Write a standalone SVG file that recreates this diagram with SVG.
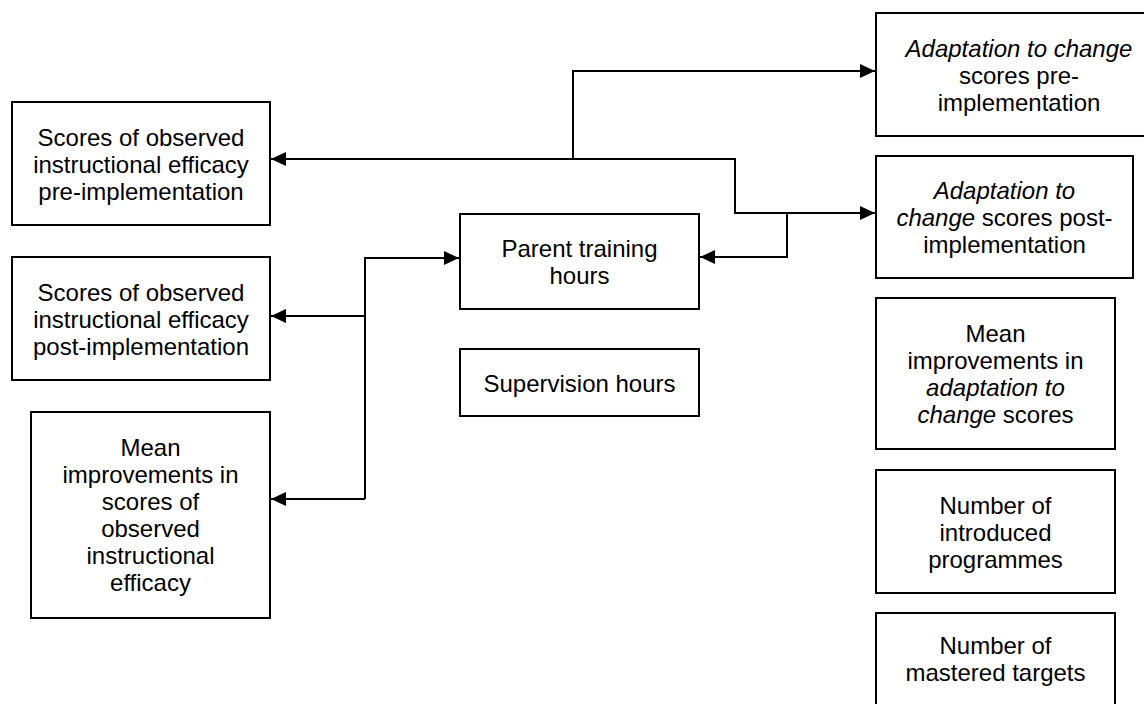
<svg xmlns="http://www.w3.org/2000/svg" width="1144" height="704" viewBox="0 0 1144 704">
<style>
.box{fill:#fff;stroke:#000;stroke-width:2}
.t{font-family:"Liberation Sans",Arial,sans-serif;font-size:24px;fill:#000;text-anchor:middle}
.i{font-style:italic}
.c{fill:none;stroke:#000;stroke-width:2}
</style>
<defs>
<marker id="ah" markerUnits="userSpaceOnUse" markerWidth="16" markerHeight="14" refX="15" refY="7" orient="auto">
<path d="M0,0 L15,7 L0,14 z" fill="#000"/>
</marker>
</defs>
<rect width="1144" height="704" fill="#fff"/>
<g id="connectors">
<path class="c" d="M573 159 H271" marker-end="url(#ah)"/>
<path class="c" d="M573 159 V71 H875" marker-end="url(#ah)"/>
<path class="c" d="M573 159 H735 V213 H875" marker-end="url(#ah)"/>
<path class="c" d="M787 213 V257 H700" marker-end="url(#ah)"/>
<path class="c" d="M365 499 V258 H459" marker-end="url(#ah)"/>
<path class="c" d="M365 316 H271" marker-end="url(#ah)"/>
<path class="c" d="M365 499 H271" marker-end="url(#ah)"/>
</g>
<g id="obs-pre">
<rect class="box" x="12" y="102" width="258" height="123"/>
<text class="t" x="141" y="145.5">Scores of observed</text>
<text class="t" x="141" y="172.5">instructional efficacy</text>
<text class="t" x="141" y="199.5">pre-implementation</text>
</g>
<g id="obs-post">
<rect class="box" x="12" y="257" width="258" height="123"/>
<text class="t" x="141" y="300.5">Scores of observed</text>
<text class="t" x="141" y="327.5">instructional efficacy</text>
<text class="t" x="141" y="354.5">post-implementation</text>
</g>
<g id="obs-mean">
<rect class="box" x="31" y="412" width="239" height="206"/>
<text class="t" x="150.5" y="456">Mean</text>
<text class="t" x="150.5" y="483">improvements in</text>
<text class="t" x="150.5" y="510">scores of</text>
<text class="t" x="150.5" y="537">observed</text>
<text class="t" x="150.5" y="564">instructional</text>
<text class="t" x="150.5" y="591">efficacy</text>
</g>
<g id="parent">
<rect class="box" x="460" y="214" width="239" height="95"/>
<text class="t" x="579.5" y="257">Parent training</text>
<text class="t" x="579.5" y="284">hours</text>
</g>
<g id="supervision">
<rect class="box" x="460" y="349" width="239" height="67"/>
<text class="t" x="579.5" y="391.5">Supervision hours</text>
</g>
<g id="adapt-pre">
<rect class="box" x="876" y="13" width="290" height="123"/>
<text class="t" x="1019" y="56.5"><tspan class="i">Adaptation to change</tspan></text>
<text class="t" x="1019" y="83.5">scores pre-</text>
<text class="t" x="1019" y="110.5">implementation</text>
</g>
<g id="adapt-post">
<rect class="box" x="876" y="156" width="257" height="122"/>
<text class="t" x="1004.5" y="199"><tspan class="i">Adaptation to</tspan></text>
<text class="t" x="1004.5" y="226"><tspan class="i">change</tspan> scores post-</text>
<text class="t" x="1004.5" y="253">implementation</text>
</g>
<g id="adapt-mean">
<rect class="box" x="876" y="298" width="239" height="151"/>
<text class="t" x="995.5" y="342">Mean</text>
<text class="t" x="995.5" y="369">improvements in</text>
<text class="t" x="995.5" y="396"><tspan class="i">adaptation to</tspan></text>
<text class="t" x="995.5" y="423"><tspan class="i">change</tspan> scores</text>
</g>
<g id="programmes">
<rect class="box" x="876" y="470" width="239" height="123"/>
<text class="t" x="995.5" y="513.5">Number of</text>
<text class="t" x="995.5" y="540.5">introduced</text>
<text class="t" x="995.5" y="567.5">programmes</text>
</g>
<g id="targets">
<rect class="box" x="876" y="613" width="239" height="94"/>
<text class="t" x="995.5" y="654">Number of</text>
<text class="t" x="995.5" y="681">mastered targets</text>
</g>
</svg>
